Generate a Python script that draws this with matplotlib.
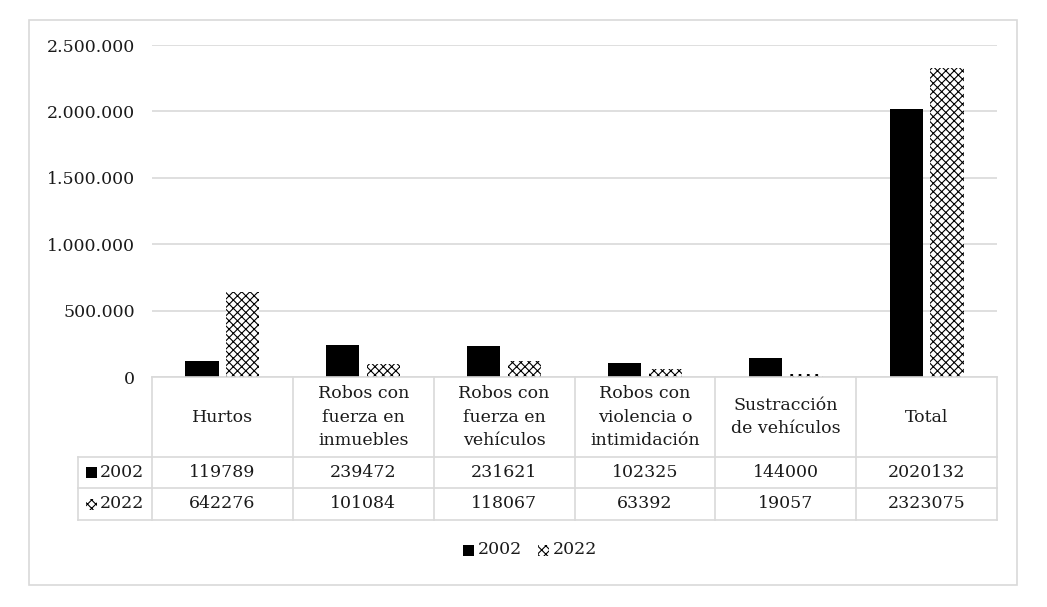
import matplotlib.pyplot as plt
from matplotlib.patches import Rectangle
from matplotlib.ticker import FuncFormatter
import numpy as np

categorias = ['Hurtos', 'Robos con\nfuerza en\ninmuebles', 'Robos con\nfuerza en\nvehículos',
              'Robos con\nviolencia o\nintimidación', 'Sustracción\nde vehículos', 'Total']
valores_2002 = [119789, 239472, 231621, 102325, 144000, 2020132]
valores_2022 = [642276, 101084, 118067, 63392, 19057, 2323075]
series = ['2002', '2022']

plt.rcParams['font.family'] = ['DejaVu Serif']
plt.rcParams['hatch.linewidth'] = 0.8
W, H = 1047, 607
fig = plt.figure(figsize=(W / 100, H / 100), dpi=100)

gris = '#d9d9d9'
tam = 12.5
trama = 'xxxx'
txt = '#1a1a1a'

# pixel -> coordenadas de figura
def fx(x):
    return x / W
def fy(y):
    return 1 - y / H

# borde exterior
fig.patches.append(Rectangle((fx(29), fy(585)), fx(1017) - fx(29), fy(20) - fy(585),
                             transform=fig.transFigure, fill=False, edgecolor=gris, lw=1.2))

x0, x1, y0, y1 = 152, 997, 377, 45
ax = fig.add_axes([fx(x0), fy(y0), fx(x1) - fx(x0), fy(y1) - fy(y0)])
n = len(categorias)
x = np.arange(n)
ax.bar(x - 0.145, valores_2002, width=0.235, color='black', zorder=3)
ax.bar(x + 0.145, valores_2022, width=0.235, color='white', edgecolor='black', hatch=trama, linewidth=0, zorder=3)
ax.set_xlim(-0.5, n - 0.5)
ax.set_ylim(0, 2500000)
ax.set_yticks(np.arange(0, 2500001, 500000))
ax.yaxis.set_major_formatter(FuncFormatter(lambda v, p: f'{int(v):,}'.replace(',', '.')))
ax.grid(axis='y', color=gris, lw=1.2, zorder=0)
ax.set_xticks([])
for s in ax.spines.values():
    s.set_visible(False)
ax.tick_params(axis='y', length=0, pad=12, labelsize=tam, labelcolor=txt)

# tabla de datos
col_w = (x1 - x0) / n
filas_y = [377, 457, 488, 520]
lineas = dict(color=gris, lw=1.2)
fig.add_artist(plt.Line2D([fx(x0), fx(x1)], [fy(377)] * 2, **lineas))
for yy in filas_y[1:]:
    fig.add_artist(plt.Line2D([fx(78), fx(x1)], [fy(yy)] * 2, **lineas))
for i in range(n + 1):
    xx = x0 + i * col_w
    fig.add_artist(plt.Line2D([fx(xx)] * 2, [fy(377), fy(520)], **lineas))
fig.add_artist(plt.Line2D([fx(78)] * 2, [fy(457), fy(520)], **lineas))

for i, cat in enumerate(categorias):
    cx = x0 + (i + 0.5) * col_w
    fig.text(fx(cx), fy(417), cat, ha='center', va='center', fontsize=tam, linespacing=1.5, color=txt)
    fig.text(fx(cx), fy(472.5), str(valores_2002[i]), ha='center', va='center', fontsize=tam, color=txt)
    fig.text(fx(cx), fy(504), str(valores_2022[i]), ha='center', va='center', fontsize=tam, color=txt)

# claves de leyenda
def clave(xp, yp, rayado):
    if rayado:
        r = Rectangle((fx(xp), fy(yp + 5.5)), fx(11), 11 / H, transform=fig.transFigure,
                      facecolor='white', edgecolor='black', hatch=trama, lw=0)
    else:
        r = Rectangle((fx(xp), fy(yp + 5.5)), fx(11), 11 / H, transform=fig.transFigure,
                      facecolor='black', lw=0)
    fig.patches.append(r)

clave(86, 472.5, False)
fig.text(fx(100), fy(472.5), series[0], ha='left', va='center', fontsize=tam, color=txt)
clave(86, 504, True)
fig.text(fx(100), fy(504), series[1], ha='left', va='center', fontsize=tam, color=txt)

# leyenda inferior
clave(463, 550, False)
fig.text(fx(478), fy(550), series[0], ha='left', va='center', fontsize=tam, color=txt)
clave(538, 550, True)
fig.text(fx(553), fy(550), series[1], ha='left', va='center', fontsize=tam, color=txt)

fig.savefig('out.png', dpi=100)
